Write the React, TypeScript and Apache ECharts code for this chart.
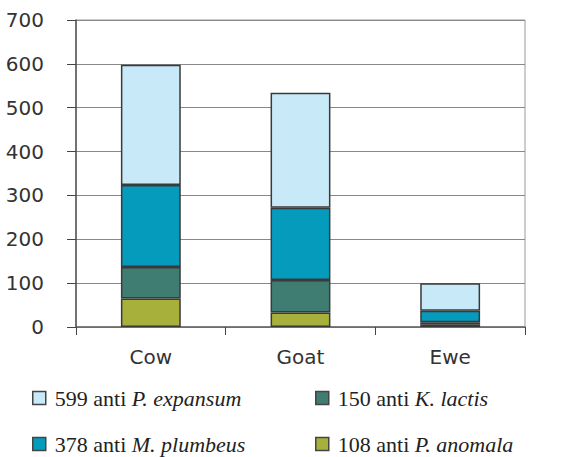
import React, { useEffect, useRef } from "react";
import * as echarts from "echarts";

const categories = ["Cow", "Goat", "Ewe"];
const seriesNames = [
  "108 anti P. anomala",
  "150 anti K. lactis",
  "378 anti M. plumbeus",
  "599 anti P. expansum",
];
const anomala = [65, 33, 5];
const lactis = [72, 74, 6];
const plumbeus = [187, 165, 26];
const expansum = [274, 262, 63];
const yTicks = { min: 0, max: 700, interval: 100 };
const colors = ["#a6b03a", "#3f7d72", "#059bbd", "#c8e9f8"];

export default function App() {
  const ref = useRef<HTMLDivElement>(null);
  useEffect(() => {
    if (!ref.current) return;
    const chart = echarts.init(ref.current, undefined, { renderer: "svg" });
    const values = [anomala, lactis, plumbeus, expansum];
    const fmt = (name: string) => {
      const parts = name.split(" ");
      return `{n|${parts[0]} ${parts[1]} }{i|${parts.slice(2).join(" ")}}`;
    };
    const legendText = {
      fontFamily: "Liberation Serif",
      fontSize: 22,
      color: "#222",
      lineHeight: 24,
      rich: {
        n: {
          fontFamily: "Liberation Serif",
          fontSize: 22,
          color: "#222",
          lineHeight: 24,
          padding: [0, 0, 0, 4],
        },
        i: {
          fontFamily: "Liberation Serif",
          fontSize: 22,
          fontStyle: "italic",
          color: "#222",
          lineHeight: 24,
        },
      },
    };
    const legendAt = (name: string, left: number, top: number) => ({
      left,
      top,
      padding: 0,
      itemWidth: 13,
      itemHeight: 13,
      itemGap: 10,
      icon: "rect",
      formatter: fmt,
      textStyle: legendText,
      itemStyle: { borderColor: "#444", borderWidth: 1.5 },
      data: [name],
    });
    chart.setOption({
      animation: false,
      grid: {
        left: 76,
        right: 59,
        top: 20,
        bottom: 130,
        show: true,
        borderColor: "#999",
        borderWidth: 1,
      },
      legend: [
        legendAt(seriesNames[3], 32, 386),
        legendAt(seriesNames[2], 32, 432),
        legendAt(seriesNames[1], 315, 386),
        legendAt(seriesNames[0], 315, 432),
      ],
      xAxis: {
        type: "category",
        data: categories,
        axisLine: { lineStyle: { color: "#666", width: 1.5 } },
        axisTick: { show: true, length: 8, lineStyle: { color: "#444" } },
        axisLabel: {
          fontFamily: "DejaVu Sans",
          fontSize: 20,
          color: "#333",
          margin: 20,
        },
      },
      yAxis: {
        type: "value",
        min: yTicks.min,
        max: yTicks.max,
        interval: yTicks.interval,
        axisLine: { show: true, lineStyle: { color: "#555", width: 1.5 } },
        axisTick: { show: true, length: 9, lineStyle: { color: "#444" } },
        splitLine: { lineStyle: { color: "#888", width: 1 } },
        axisLabel: {
          fontFamily: "DejaVu Sans",
          fontSize: 20,
          color: "#333",
          margin: 32,
        },
      },
      series: seriesNames.map((name, i) => ({
        name,
        type: "bar",
        stack: "total",
        barWidth: "40%",
        data: values[i],
        itemStyle: { color: colors[i], borderColor: "#3a3a3a", borderWidth: 1.5 },
      })),
    });
    return () => chart.dispose();
  }, []);
  return (
    <div
      ref={ref}
      style={{ position: "absolute", left: 0, top: 0, width: 584, height: 457 }}
    />
  );
}
